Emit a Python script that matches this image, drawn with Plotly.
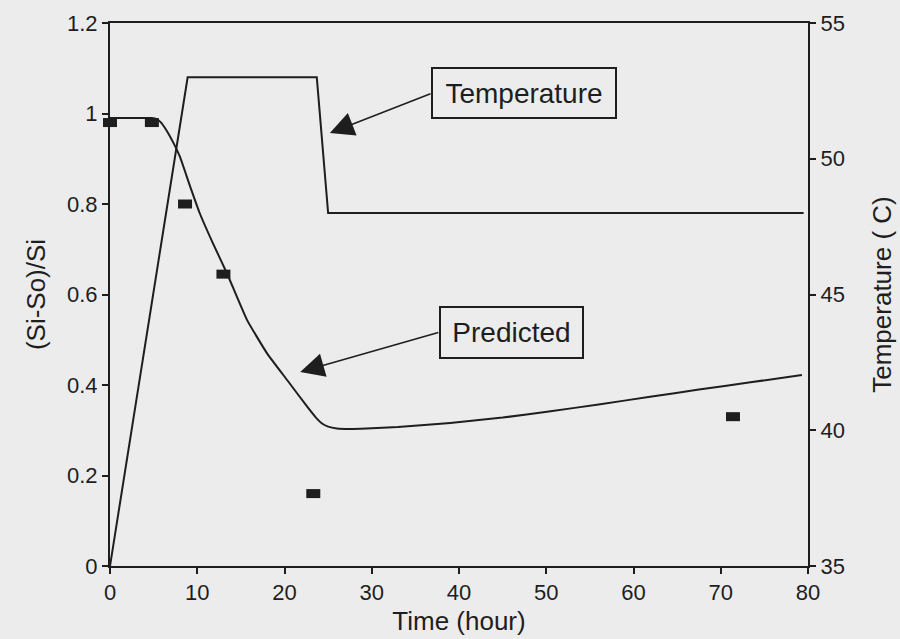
import plotly.graph_objects as go

# Data
temp_time = [0, 8.9, 23.7, 25.0, 79.5]
temp_vals = [35, 53.0, 53.0, 48.0, 48.0]

pred_time = [0, 4.8, 5.3, 5.8, 6.5, 7.3, 8.0, 9.2, 10.3, 11.8, 13.4, 15.7, 18.0, 20.3, 22.6,
             23.6, 24.3, 25.0, 26.0, 27.5, 29.4, 33.0, 39.0, 45.0, 50.5, 56.0, 61.9, 67.5, 73.4, 79.3]
pred_vals = [0.99, 0.99, 0.988, 0.981, 0.962, 0.934, 0.905, 0.838, 0.779, 0.713, 0.647, 0.544,
             0.47, 0.411, 0.352, 0.328, 0.315, 0.308, 0.304, 0.303, 0.304, 0.307, 0.316, 0.328,
             0.342, 0.357, 0.374, 0.39, 0.406, 0.422]

meas_time = [0, 4.8, 8.6, 13.0, 23.3, 71.4]
meas_vals = [0.98, 0.98, 0.80, 0.645, 0.16, 0.33]

x_ticks = [0, 10, 20, 30, 40, 50, 60, 70, 80]
y_ticks = [0, 0.2, 0.4, 0.6, 0.8, 1.0, 1.2]
y_tick_text = ["0", "0.2", "0.4", "0.6", "0.8", "1", "1.2"]
y2_ticks = [35, 40, 45, 50, 55]

INK = "#1e1e1e"
FONT = "Liberation Sans"

fig = go.Figure()
fig.add_trace(go.Scatter(x=temp_time, y=temp_vals, mode="lines", yaxis="y2",
                         line=dict(color=INK, width=2), showlegend=False))
fig.add_trace(go.Scatter(x=pred_time, y=pred_vals, mode="lines", line_shape="spline",
                         line=dict(color=INK, width=2, smoothing=0.4), showlegend=False))
fig.add_trace(go.Scatter(x=meas_time, y=meas_vals, mode="markers",
                         marker=dict(symbol="line-ew", size=10,
                                     line=dict(color=INK, width=9)),
                         showlegend=False, cliponaxis=False))

axis_common = dict(showgrid=False, zeroline=False, showline=True, linecolor=INK,
                   linewidth=2, ticks="outside", ticklen=6, tickwidth=1.5,
                   tickcolor=INK, tickfont=dict(family=FONT, size=22, color=INK),
                   automargin=False)

TITLE_FONT = dict(family=FONT, size=26, color=INK)

fig.update_layout(
    width=900, height=639,
    margin=dict(l=110, r=92, t=23, b=73),
    paper_bgcolor="#ececec", plot_bgcolor="#ececec",
    font=dict(family=FONT, color=INK),
    xaxis=dict(range=[0, 80], tickvals=x_ticks, mirror=True,
               title=dict(text="Time (hour)", font=TITLE_FONT, standoff=7),
               **axis_common),
    yaxis=dict(range=[0, 1.2], tickvals=y_ticks, ticktext=y_tick_text,
               title=dict(text="(Si-So)/Si", font=TITLE_FONT, standoff=14),
               **axis_common),
    yaxis2=dict(range=[35, 55], tickvals=y2_ticks, overlaying="y", side="right",
                title=dict(text="Temperature ( C)", font=TITLE_FONT, standoff=29),
                **axis_common),
)

# Text boxes
for txt, xc, yc, w, h in [("Temperature", 47.4, 1.045, 180, 46), ("Predicted", 46.0, 0.517, 139, 47)]:
    fig.add_annotation(x=xc, y=yc, xref="x", yref="y", text=txt, showarrow=False,
                       font=dict(family=FONT, size=28, color=INK),
                       width=w, height=h, align="center", valign="middle",
                       bordercolor=INK, borderwidth=2, borderpad=1,
                       bgcolor="rgba(0,0,0,0)")

# Arrows (tail -> head)
for (tx, ty, hx, hy) in [(36.9, 1.045, 25.2, 0.957), (37.8, 0.517, 21.8, 0.429)]:
    fig.add_annotation(x=hx, y=hy, ax=tx, ay=ty, xref="x", yref="y", axref="x", ayref="y",
                       text="", showarrow=True, arrowhead=2, arrowsize=3.2,
                       arrowwidth=1.5, arrowcolor=INK)

fig.write_html("out.html")
